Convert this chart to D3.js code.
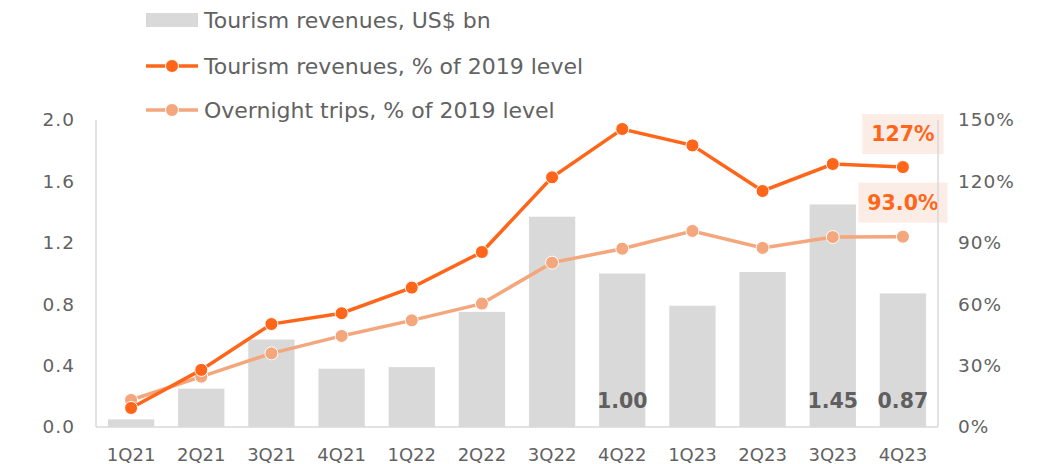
<!DOCTYPE html>
<html>
<head>
	<script src="https://cdn.jsdelivr.net/npm/d3@7"></script>
	<style>
		html, body {
			padding: 0;
			margin: 0;
			background: #fff;
		}
		text {
			font-family: "DejaVu Sans", "Noto Sans", sans-serif;
		}
	</style>
</head>
<body>
	<script>
		var width = 1041, height = 464;

		/* chart data */
		var quarters = ["1Q21", "2Q21", "3Q21", "4Q21", "1Q22", "2Q22",
		                "3Q22", "4Q22", "1Q23", "2Q23", "3Q23", "4Q23"];
		var revenuesBn = [0.05, 0.25, 0.57, 0.38, 0.39, 0.75,
		                  1.37, 1.00, 0.79, 1.01, 1.45, 0.87];
		var revenuesPct = [9.3, 27.9, 50.3, 55.6, 68.1, 85.5,
		                   122.0, 145.6, 137.6, 115.3, 128.5, 127.0];
		var tripsPct = [13.2, 24.6, 36.0, 44.5, 52.1, 60.3,
		                80.3, 87.1, 95.8, 87.5, 92.8, 93.0];
		var leftTicks = [0, 0.4, 0.8, 1.2, 1.6, 2.0];
		var rightTicks = [0, 30, 60, 90, 120, 150];
		var barLabels = ["4Q22", "3Q23", "4Q23"];
		var seriesNames = ["Tourism revenues, US$ bn",
		                   "Tourism revenues, % of 2019 level",
		                   "Overnight trips, % of 2019 level"];

		var grey = "#626262",
		    barColor = "#d9d9d9",
		    revColor = "#ff661a",
		    tripColor = "#f4a67c";

		var margin = {top: 120, right: 103, bottom: 37, left: 96};

		var svg = d3.select("body").append("svg")
			.attr("width", width)
			.attr("height", height);

		var x = d3.scaleBand()
			.domain(quarters)
			.range([margin.left, width - margin.right])
			.paddingInner(0.34)
			.paddingOuter(0.17);

		var yL = d3.scaleLinear().domain([0, 2]).range([height - margin.bottom, margin.top]);
		var yR = d3.scaleLinear().domain([0, 150]).range([height - margin.bottom, margin.top]);

		var cx = function(q) { return x(q) + x.bandwidth() / 2; };

		// bars
		svg.append("g").selectAll("rect")
			.data(quarters)
			.join("rect")
			.attr("x", function(d) { return x(d); })
			.attr("width", x.bandwidth())
			.attr("y", function(d, i) { return yL(revenuesBn[i]); })
			.attr("height", function(d, i) { return yL(0) - yL(revenuesBn[i]); })
			.attr("fill", barColor);

		// bar value labels at the foot of selected bars
		svg.append("g").selectAll("text")
			.data(barLabels)
			.join("text")
			.attr("x", cx)
			.attr("y", yL(0) - 26)
			.attr("dy", "0.35em")
			.attr("text-anchor", "middle")
			.attr("font-size", 20.5)
			.attr("font-weight", 700)
			.attr("fill", "#5f5f5f")
			.text(function(d) { return revenuesBn[quarters.indexOf(d)].toFixed(2); });

		// end labels (boxes behind)
		var last = quarters[quarters.length - 1];
		var endLabels = [
			{text: Math.round(revenuesPct[11]) + "%", y: yR(revenuesPct[11]) - 33},
			{text: tripsPct[11].toFixed(1) + "%", y: yR(tripsPct[11]) - 34}
		];
		var eg = svg.append("g").selectAll("g")
			.data(endLabels)
			.join("g");
		eg.append("text")
			.attr("x", cx(last))
			.attr("y", function(d) { return d.y; })
			.attr("dy", "0.35em")
			.attr("text-anchor", "middle")
			.attr("font-size", 20.5)
			.attr("font-weight", 700)
			.attr("fill", revColor)
			.text(function(d) { return d.text; })
			.each(function(d) {
				var b = this.getBBox();
				d3.select(this.parentNode).insert("rect", "text")
					.attr("x", b.x - 9)
					.attr("y", d.y - 20)
					.attr("width", b.width + 18)
					.attr("height", 40)
					.attr("fill", "#fae6dc")
					.attr("opacity", 0.75);
			});

		// axes lines
		var axisG = svg.append("g").attr("stroke", "#d9d9d9").attr("stroke-width", 1.5);
		axisG.append("line")
			.attr("x1", margin.left).attr("x2", margin.left)
			.attr("y1", yL(2)).attr("y2", yL(0));
		axisG.append("line")
			.attr("x1", width - margin.right).attr("x2", width - margin.right)
			.attr("y1", yR(150)).attr("y2", yR(0));
		axisG.append("line")
			.attr("x1", margin.left).attr("x2", width - margin.right)
			.attr("y1", yL(0)).attr("y2", yL(0));

		// tick labels
		svg.append("g").selectAll("text")
			.data(leftTicks)
			.join("text")
			.attr("x", 75)
			.attr("y", yL)
			.attr("dy", "0.35em")
			.attr("text-anchor", "end")
			.attr("font-size", 18.5)
			.attr("letter-spacing", 1)
			.attr("fill", grey)
			.text(d3.format(".1f"));

		svg.append("g").selectAll("text")
			.data(rightTicks)
			.join("text")
			.attr("x", 958)
			.attr("y", yR)
			.attr("dy", "0.35em")
			.attr("font-size", 18.5)
			.attr("letter-spacing", 1)
			.attr("fill", grey)
			.text(function(d) { return d + "%"; });

		svg.append("g").selectAll("text")
			.data(quarters)
			.join("text")
			.attr("x", cx)
			.attr("y", 455)
			.attr("dy", "0.35em")
			.attr("text-anchor", "middle")
			.attr("font-size", 18)
			.attr("fill", grey)
			.text(function(d) { return d; });

		// lines
		var drawLine = function(vals, color) {
			var line = d3.line()
				.x(function(d, i) { return cx(quarters[i]); })
				.y(function(d) { return yR(d); });
			svg.append("path")
				.datum(vals)
				.attr("d", line)
				.attr("fill", "none")
				.attr("stroke", color)
				.attr("stroke-width", 3.5);
			svg.append("g").selectAll("circle")
				.data(vals)
				.join("circle")
				.attr("cx", function(d, i) { return cx(quarters[i]); })
				.attr("cy", yR)
				.attr("r", 6.5)
				.attr("fill", color)
				.attr("stroke", "#fff")
				.attr("stroke-width", 1);
		};
		drawLine(tripsPct, tripColor);
		drawLine(revenuesPct, revColor);

		// legend
		var legend = svg.append("g");
		var legY = [20, 66, 110];
		legend.append("rect")
			.attr("x", 146).attr("y", legY[0] - 7)
			.attr("width", 52).attr("height", 14)
			.attr("fill", barColor);
		[revColor, tripColor].forEach(function(c, i) {
			var ly = legY[i + 1];
			legend.append("line")
				.attr("x1", 146).attr("x2", 198)
				.attr("y1", ly).attr("y2", ly)
				.attr("stroke", c).attr("stroke-width", 3.5);
			legend.append("circle")
				.attr("cx", 172).attr("cy", ly).attr("r", 6.5)
				.attr("fill", c).attr("stroke", "#fff").attr("stroke-width", 1);
		});
		legend.selectAll("text")
			.data(seriesNames)
			.join("text")
			.attr("x", 204)
			.attr("y", function(d, i) { return legY[i]; })
			.attr("dy", "0.35em")
			.attr("font-size", 22)
			.attr("fill", grey)
			.text(function(d) { return d; });
	</script>
</body>
</html>
